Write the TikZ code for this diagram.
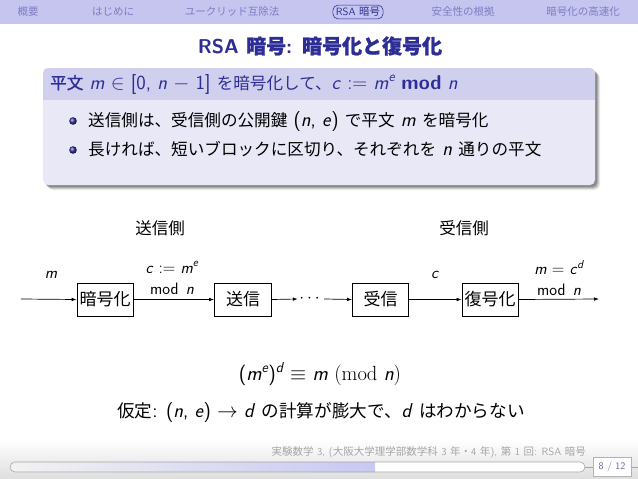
\documentclass[tikz,border=0pt]{standalone}
\usepackage{amsmath}
\usepackage{fontspec}
\newfontfamily\jp{Noto Sans CJK JP}
\newfontfamily\jpb[FakeBold=1.2]{Noto Sans CJK JP}
\newfontfamily\jk[Scale=0.83]{Noto Sans CJK JP}
\newfontfamily\jkk[Scale=0.88]{Noto Sans CJK JP}
\newfontfamily\jkb[Scale=0.83,FakeBold=1.2]{Noto Sans CJK JP}
\usetikzlibrary{arrows.meta,calc}
\definecolor{hdr}{RGB}{197,197,240}
\definecolor{navc}{RGB}{125,125,195}
\definecolor{strc}{RGB}{45,45,150}
\definecolor{btitle}{RGB}{208,208,238}
\definecolor{bbody}{RGB}{232,232,247}
\definecolor{footc}{RGB}{165,165,165}
\definecolor{barfill}{RGB}{200,200,242}
\newcommand\J[1]{{\jp #1}}
\newcommand\JB[1]{{\jpb #1}}
\newcommand\K[1]{{\jk #1}}
\newcommand\KK[1]{{\jkk #1}}
\newcommand\KB[1]{{\jkb #1}}
\newcommand\vi[1]{\textit{#1}}
\begin{document}
\begin{tikzpicture}[x=1pt,y=-1pt,
  nav/.style={font=\fontsize{10.5}{12}\selectfont\sffamily, text=navc, inner sep=0pt},
  body/.style={font=\fontsize{20}{24}\selectfont\sffamily, inner sep=0pt, text height=14pt, text depth=4pt},
  boxn/.style={draw, line width=0.8pt, minimum height=33pt, inner sep=0pt, font=\fontsize{17}{20}\selectfont\sffamily},
  lab/.style={font=\fontsize{16.5}{21}\selectfont\sffamily, inner sep=0pt, align=center},
  arr/.style={-{Latex[length=5pt,width=3.6pt]}, line width=0.7pt}
]
\useasboundingbox (0,0) rectangle (638,479);
% header
\fill[hdr] (0,0) rectangle (638,24);
\node[nav] (n1) at (28,12) {\J{概要}};
\node[nav] (n2) at (113,12) {\J{はじめに}};
\node[nav] (n3) at (232,12) {\J{ユークリッド互除法}};
\node[nav, text=strc, draw=strc, rounded corners=5pt, inner xsep=3pt, inner ysep=2pt, line width=0.6pt] (n4) at (358,12) {RSA \J{暗号}};
\node[nav] (n5) at (463,12) {\J{安全性の根拠}};
\node[nav] (n6) at (583,12) {\J{暗号化の高速化}};
% title
\node[font=\fontsize{20}{24}\selectfont\sffamily\bfseries, text=strc, inner sep=0pt] (title) at (320,46) {RSA \JB{暗号}: \JB{暗号化と復号化}};
% block shadow
\foreach \o/\op in {5/0.08,4/0.12,3/0.16,2/0.2} {
  \fill[black, opacity=\op, rounded corners=5pt] (43+\o,68+\o) rectangle (595+\o,185+\o);
}
\fill[bbody, rounded corners=5pt] (43,68) rectangle (595,185);
\begin{scope}
  \clip[rounded corners=5pt] (43,68) rectangle (595,185);
  \fill[btitle] (43,68) rectangle (595,100);
\end{scope}
\node[body, anchor=west, text=strc] (bt) at (50,84) {\KB{平文} \vi{m} $\in$ [0, \vi{n} $-$ 1] \K{を暗号化して、}\vi{c} $:=$ \vi{m}$^{\vi{e}}$ \textbf{mod} \vi{n}};
\shade[ball color=strc] (73,121) circle (3.8pt);
\shade[ball color=strc] (73,150) circle (3.8pt);
\node[body, anchor=west] (i1) at (88,121) {\K{送信側は、受信側の公開鍵} (\vi{n}, \vi{e}) \K{で平文} \vi{m} \K{を暗号化}};
\node[body, anchor=west] (i2) at (88,150) {\K{長ければ、短いブロックに区切り、それぞれを} \vi{n} \K{通りの平文}};
% diagram
\node[lab] (sside) at (160,228) {\J{送信側}};
\node[lab] (rside) at (464,228) {\J{受信側}};
\node[boxn, minimum width=56pt] (enc) at (105,299.5) {\J{暗号化}};
\node[boxn, minimum width=57pt] (snd) at (243,299.5) {\J{送信}};
\node[font=\fontsize{16}{20}\selectfont, inner xsep=1.5pt, inner ysep=0pt] (dots) at (311,299) {$\cdots$};
\node[boxn, minimum width=56pt] (rcv) at (380.5,299.5) {\J{受信}};
\node[boxn, minimum width=56pt] (dec) at (490,299.5) {\J{復号化}};
\coordinate (st) at (21,299);
\coordinate (en) at (599,299);
\draw[arr] (st) -- (enc.west);
\draw[arr] (enc.east) -- (snd.west);
\draw[arr] (snd.east) -- (dots.west);
\draw[arr] (dots.east) -- (rcv.west);
\draw[arr] (rcv.east) -- (dec.west);
\draw[arr] (dec.east) -- (en);
\node[lab] (lm) at (51,275) {\vi{m}};
\node[lab] (lc1) at (172,278) {\vi{c} $:=$ \vi{m}$^{\vi{e}}$\\mod\hspace{0.45em}\vi{n}};
\node[lab] (lc) at (435,275) {\vi{c}};
\node[lab] (lc2) at (559,278) {\vi{m} $=$ \vi{c}$^{\vi{d}}$\\mod\hspace{0.45em}\vi{n}};
% equations
\node[body, text height=15pt, text depth=5pt, font=\fontsize{20.5}{24}\selectfont\sffamily] (eq) at (320,375) {(\vi{m}$^{\vi{e}}$)$^{\vi{d}}$ $\equiv$ \vi{m} $(\mathrm{mod}\ \textit{n})$};
\node[body] (assume) at (321,412) {\KK{仮定}: (\vi{n}, \vi{e}) $\to$ \vi{d} \KK{の計算が膨大で、}\vi{d} \KK{はわからない}};
% footer
\shade[top color=white, bottom color=black!13] (0,440) rectangle (638,479);
\node[font=\fontsize{10.5}{12}\selectfont\sffamily, text=footc, inner sep=0pt, anchor=east] (ft) at (586,452) {\J{実験数学} 3, (\J{大阪大学理学部数学科} 3 \J{年・}4 \J{年}), \J{第} 1 \J{回}: RSA \J{暗号}};
\draw[black!35, line width=0.6pt] (585,467) -- (638,467);
\fill[white, rounded corners=5pt] (10,462) rectangle (585,472);
\begin{scope}
  \clip[rounded corners=5pt] (10,462) rectangle (585,472);
  \shade[left color=black!5!white, right color=barfill] (10,462) rectangle (375,472);
\end{scope}
\draw[black!35, line width=0.6pt, rounded corners=5pt] (10,462) rectangle (585,472);
\node[draw=black!30, fill=white, line width=0.6pt, font=\fontsize{10}{12}\selectfont\sffamily, text=navc!80!black, minimum width=38pt, minimum height=19pt, inner sep=0pt] (pg) at (612,467) {8 / 12};
\end{tikzpicture}
\end{document}
